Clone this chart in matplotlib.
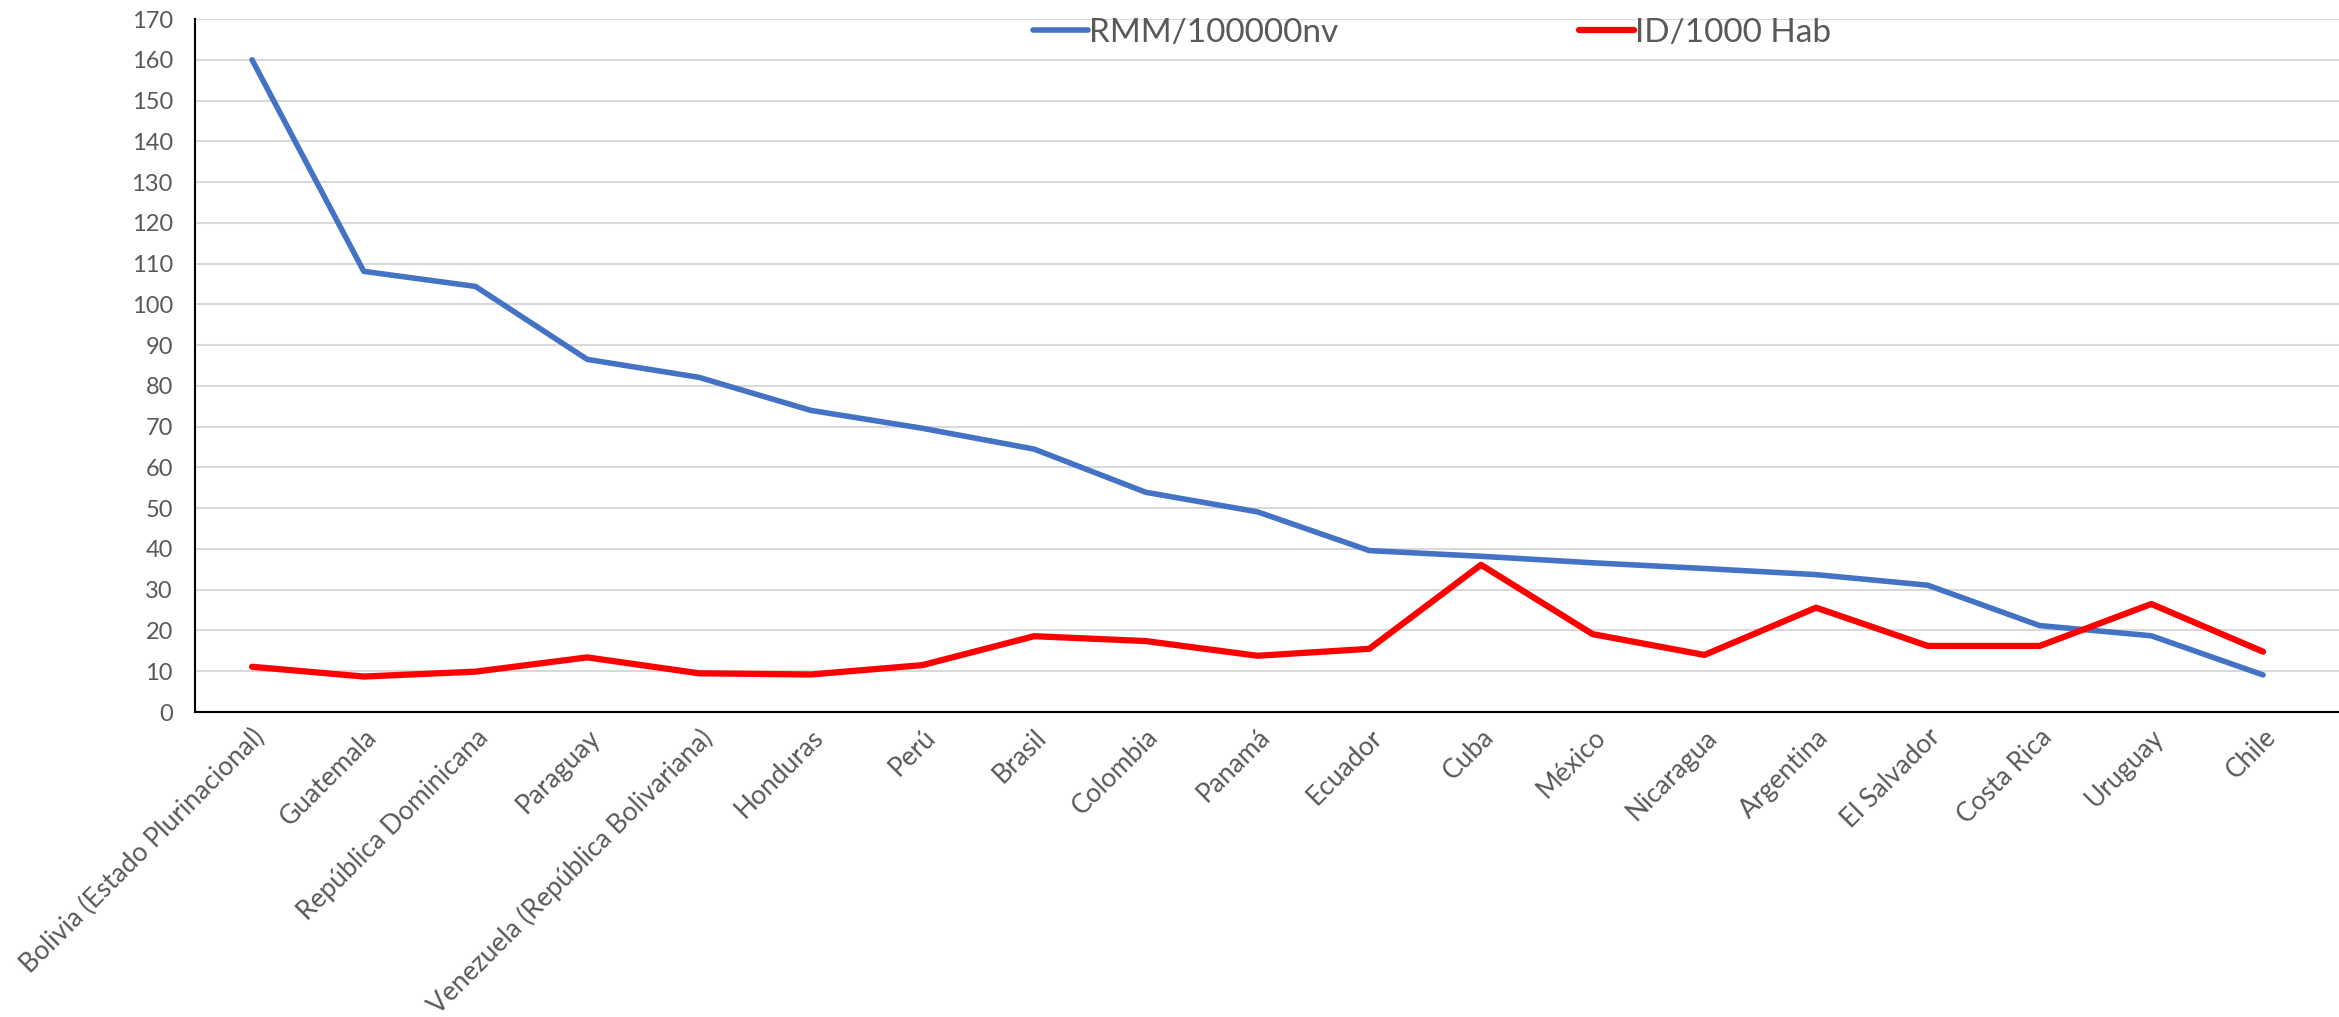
import matplotlib
matplotlib.use("Agg")
import matplotlib.pyplot as plt

# Data
countries = [
    "Bolivia (Estado Plurinacional)", "Guatemala", "República Dominicana",
    "Paraguay", "Venezuela (República Bolivariana)", "Honduras", "Perú",
    "Brasil", "Colombia", "Panamá", "Ecuador", "Cuba", "México",
    "Nicaragua", "Argentina", "El Salvador", "Costa Rica", "Uruguay", "Chile",
]
rmm = [160, 108.1, 104.4, 86.5, 82.1, 74.0, 69.6, 64.5, 53.9, 49.1,
       39.6, 38.2, 36.6, 35.2, 33.7, 31.1, 21.2, 18.7, 9.1]
id_hab = [11.1, 8.7, 9.9, 13.4, 9.5, 9.2, 11.5, 18.6, 17.4, 13.8,
          15.5, 36.1, 19.1, 14.0, 25.6, 16.2, 16.2, 26.5, 14.8]
yticks = list(range(0, 171, 10))

plt.rcParams["font.family"] = ["Lato", "DejaVu Sans"]
TEXT = "#595959"

fig = plt.figure(figsize=(23.39, 10.17), dpi=100)
ax = fig.add_axes([0.0834, 0.2999, 0.9166, 0.6814])

x = list(range(len(countries)))
ax.plot(x, rmm, color="#4472C4", linewidth=4.0, label="RMM/100000nv",
        solid_capstyle="round", solid_joinstyle="round")
ax.plot(x, id_hab, color="#FF0000", linewidth=4.5, label="ID/1000 Hab",
        solid_capstyle="round", solid_joinstyle="round")

ax.set_xlim(-0.51, 18.68)
ax.set_ylim(0, 170)
ax.set_yticks(yticks)
ax.yaxis.grid(True, color="#D9D9D9", linewidth=1.5)
ax.set_axisbelow(True)

ax.set_xticks(x)
ax.set_xticklabels(countries, rotation=45, ha="right", va="top",
                   rotation_mode="anchor", fontsize=19, color=TEXT)
ax.tick_params(axis="x", length=0, pad=9)
ax.tick_params(axis="y", length=0, pad=16, labelsize=17, labelcolor=TEXT)

for side in ("top", "right"):
    ax.spines[side].set_visible(False)
for side in ("left", "bottom"):
    ax.spines[side].set_color("black")
    ax.spines[side].set_linewidth(1.5)

ax.legend(loc="center", bbox_to_anchor=(0.577, 0.98), ncol=2, frameon=False,
          fontsize=24, labelcolor=TEXT, handlelength=1.65, handletextpad=0.05,
          columnspacing=7.2)

fig.savefig("out.png", dpi=100)
